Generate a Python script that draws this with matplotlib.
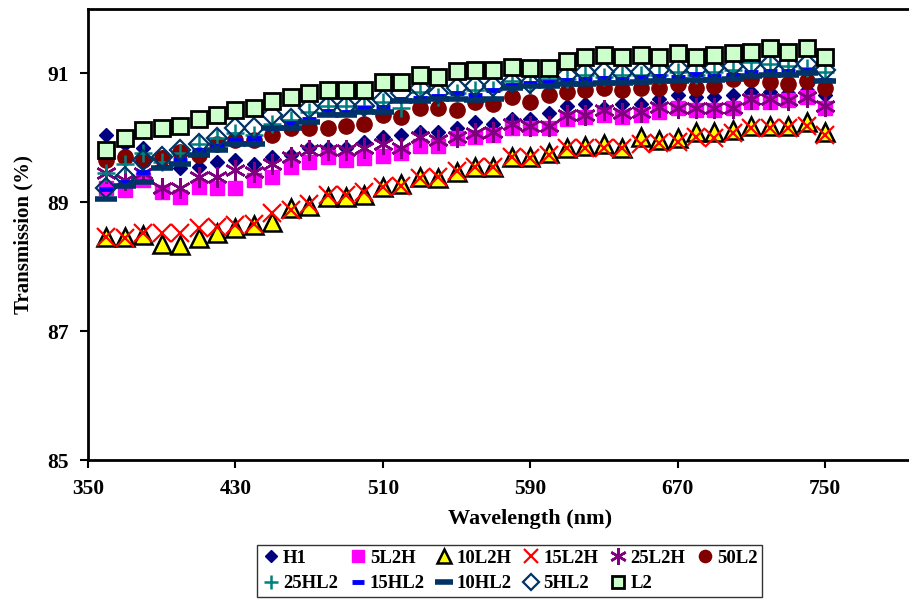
import matplotlib.pyplot as plt
from matplotlib.lines import Line2D

plt.rcParams['font.family'] = ['Liberation Serif', 'DejaVu Serif']
plt.rcParams['font.weight'] = 'bold'

wavelength = [360, 370, 380, 390, 400, 410, 420, 430, 440, 450,
              460, 470, 480, 490, 500, 510, 520, 530, 540, 550,
              560, 570, 580, 590, 600, 610, 620, 630, 640, 650,
              660, 670, 680, 690, 700, 710, 720, 730, 740, 750]

h1 = [90.04, 89.91, 89.84, 89.70, 89.53, 89.54, 89.62, 89.65, 89.60, 89.70,
      89.73, 89.85, 89.85, 89.85, 89.93, 90.01, 90.04, 90.09, 90.09, 90.16,
      90.24, 90.22, 90.30, 90.30, 90.38, 90.50, 90.53, 90.47, 90.53, 90.53,
      90.60, 90.66, 90.63, 90.63, 90.66, 90.71, 90.71, 90.69, 90.74, 90.66]
l5_2h = [89.22, 89.19, 89.34, 89.16, 89.08, 89.23, 89.22, 89.22, 89.34, 89.39,
         89.54, 89.62, 89.70, 89.65, 89.68, 89.72, 89.76, 89.88, 89.88, 89.99,
         90.01, 90.04, 90.16, 90.16, 90.16, 90.30, 90.32, 90.35, 90.32, 90.35,
         90.40, 90.46, 90.43, 90.43, 90.46, 90.55, 90.55, 90.58, 90.63, 90.47]
l10_2h = [88.46, 88.46, 88.49, 88.36, 88.33, 88.44, 88.52, 88.60, 88.64, 88.69,
          88.91, 88.95, 89.08, 89.08, 89.11, 89.23, 89.29, 89.39, 89.37, 89.47,
          89.54, 89.54, 89.70, 89.70, 89.76, 89.84, 89.88, 89.91, 89.85, 90.01,
          89.96, 89.99, 90.09, 90.09, 90.12, 90.19, 90.19, 90.19, 90.24, 90.09]
l15_2h = [88.46, 88.44, 88.53, 88.52, 88.52, 88.60, 88.61, 88.64, 88.67, 88.83,
          88.88, 88.98, 89.11, 89.11, 89.16, 89.23, 89.26, 89.37, 89.39, 89.49,
          89.54, 89.54, 89.70, 89.68, 89.73, 89.85, 89.85, 89.84, 89.85, 89.91,
          89.92, 89.93, 90.01, 90.00, 90.07, 90.15, 90.15, 90.15, 90.19, 90.04]
l25_2h = [89.45, 89.34, 89.45, 89.22, 89.22, 89.39, 89.39, 89.50, 89.47, 89.60,
          89.70, 89.81, 89.81, 89.81, 89.84, 89.91, 89.85, 90.01, 89.96, 90.01,
          90.07, 90.09, 90.22, 90.19, 90.19, 90.35, 90.35, 90.43, 90.38, 90.40,
          90.48, 90.47, 90.46, 90.46, 90.47, 90.61, 90.61, 90.58, 90.63, 90.50]
l50_2 = [89.65, 89.70, 89.65, 89.68, 89.78, 89.73, 89.91, 89.96, 89.96, 90.04,
         90.15, 90.15, 90.16, 90.19, 90.22, 90.35, 90.32, 90.46, 90.47, 90.43,
         90.55, 90.53, 90.63, 90.55, 90.66, 90.71, 90.74, 90.77, 90.74, 90.78,
         90.78, 90.84, 90.78, 90.81, 90.92, 90.92, 90.86, 90.84, 90.89, 90.77]
hl25_2 = [89.45, 89.60, 89.76, 89.62, 89.76, 89.91, 89.99, 90.08, 90.05, 90.22,
          90.28, 90.40, 90.50, 90.50, 90.50, 90.55, 90.47, 90.71, 90.63, 90.69,
          90.74, 90.74, 90.88, 90.82, 90.92, 90.92, 90.97, 90.95, 90.97, 90.97,
          90.97, 91.02, 90.97, 91.02, 91.05, 91.17, 91.15, 91.12, 91.09, 91.02]
hl15_2 = [89.20, 89.31, 89.47, 89.54, 89.65, 89.81, 89.88, 89.96, 89.99, 90.15,
          90.23, 90.30, 90.42, 90.40, 90.46, 90.48, 90.60, 90.62, 90.65, 90.69,
          90.66, 90.74, 90.82, 90.85, 90.87, 90.90, 90.92, 90.93, 90.92, 90.95,
          90.96, 90.95, 90.99, 90.96, 90.98, 91.02, 91.03, 91.03, 91.05, 90.90]
hl10_2 = [89.05, 89.26, 89.31, 89.53, 89.60, 89.73, 89.81, 89.90, 89.90, 90.15,
          90.15, 90.24, 90.35, 90.35, 90.40, 90.40, 90.57, 90.57, 90.60, 90.60,
          90.58, 90.61, 90.77, 90.80, 90.81, 90.84, 90.84, 90.85, 90.85, 90.86,
          90.88, 90.88, 90.90, 90.90, 90.92, 90.96, 90.98, 90.98, 91.00, 90.89]
hl5_2 = [89.22, 89.39, 89.65, 89.70, 89.81, 89.91, 89.99, 90.16, 90.15, 90.35,
         90.30, 90.47, 90.50, 90.50, 90.50, 90.58, 90.70, 90.77, 90.70, 90.77,
         90.81, 90.81, 90.86, 90.85, 90.92, 90.97, 91.02, 91.02, 91.01, 91.02,
         91.05, 91.09, 91.05, 91.09, 91.12, 91.15, 91.15, 91.15, 91.15, 91.05]
l2 = [89.81, 90.00, 90.12, 90.15, 90.18, 90.29, 90.36, 90.43, 90.46, 90.57,
      90.64, 90.69, 90.75, 90.75, 90.75, 90.86, 90.86, 90.97, 90.95, 91.03,
      91.05, 91.05, 91.10, 91.08, 91.09, 91.19, 91.25, 91.28, 91.25, 91.28,
      91.26, 91.31, 91.25, 91.28, 91.31, 91.34, 91.39, 91.34, 91.39, 91.25]

# name, values, marker style
series = [
    ('H1', h1, dict(marker='D', ms=7.5, mfc='#000080', mec='#000080')),
    ('5L2H', l5_2h, dict(marker='s', ms=10, mfc='#FF00FF', mec='#FF00FF')),
    ('10L2H', l10_2h, dict(marker='^', ms=13, mfc='#FFFF00', mec='black', mew=1.8)),
    ('15L2H', l15_2h, dict(marker='x', ms=13, mec='#FF0000', mew=1.6)),
    ('25L2H', l25_2h, dict(marker=(6, 2, 0), ms=15, mec='#800080', mew=1.8)),
    ('50L2', l50_2, dict(marker='o', ms=11, mfc='#800000', mec='#800000')),
    ('25HL2', hl25_2, dict(marker='+', ms=13, mec='#008080', mew=1.8)),
    ('15HL2', hl15_2, dict(marker='_', ms=10, mec='#0000FF', mew=3.5)),
    ('10HL2', hl10_2, dict(marker='_', ms=16, mec='#003366', mew=4)),
    ('5HL2', hl5_2, dict(marker='D', ms=10.5, mfc='none', mec='#003366', mew=1.6)),
    ('L2', l2, dict(marker='s', ms=11.5, mfc='#CCFFCC', mec='black', mew=2)),
]

fig = plt.figure(figsize=(9.09, 5.99), dpi=100)
ax = fig.add_axes([0.0968, 0.232, 0.973, 0.753])

handles = {}
for name, vals, style in series:
    ax.plot(wavelength, vals, linestyle='none', label=name, **style)
    small = dict(style)
    small['ms'] = style['ms'] * 0.8
    handles[name] = Line2D([], [], linestyle='none', **small)

ax.set_xlim(350, 830)
ax.set_ylim(85, 92)
ax.set_xticks([350, 430, 510, 590, 670, 750])
ax.set_yticks([85, 87, 89, 91])
ax.tick_params(direction='out', length=6, width=1.5, labelsize=15.5, pad=8)
for lab in ax.get_xticklabels() + ax.get_yticklabels():
    lab.set_fontweight('bold')
for side in ['left', 'bottom', 'top']:
    ax.spines[side].set_linewidth(2)
ax.spines['right'].set_visible(False)

ax.set_xlabel('Wavelength (nm)', fontsize=16, fontweight='bold', labelpad=7)
ax.set_ylabel('Transmission (%)', fontsize=15, fontweight='bold', labelpad=10)

# legend reads row by row: reorder for matplotlib's column filling
order = ['H1', '25HL2', '5L2H', '15HL2', '10L2H', '10HL2',
         '15L2H', '5HL2', '25L2H', 'L2', '50L2']
leg = fig.legend([handles[n] for n in order], order, ncol=6,
                 loc='center', bbox_to_anchor=(0.5605, 0.047),
                 prop={'size': 13.5, 'weight': 'bold'},
                 frameon=True, fancybox=False, edgecolor='black',
                 handlelength=1.0, handletextpad=0.15, columnspacing=0.55,
                 labelspacing=0.45, borderpad=0.25)
leg.get_frame().set_linewidth(1.0)

fig.savefig('out.png', dpi=100)
